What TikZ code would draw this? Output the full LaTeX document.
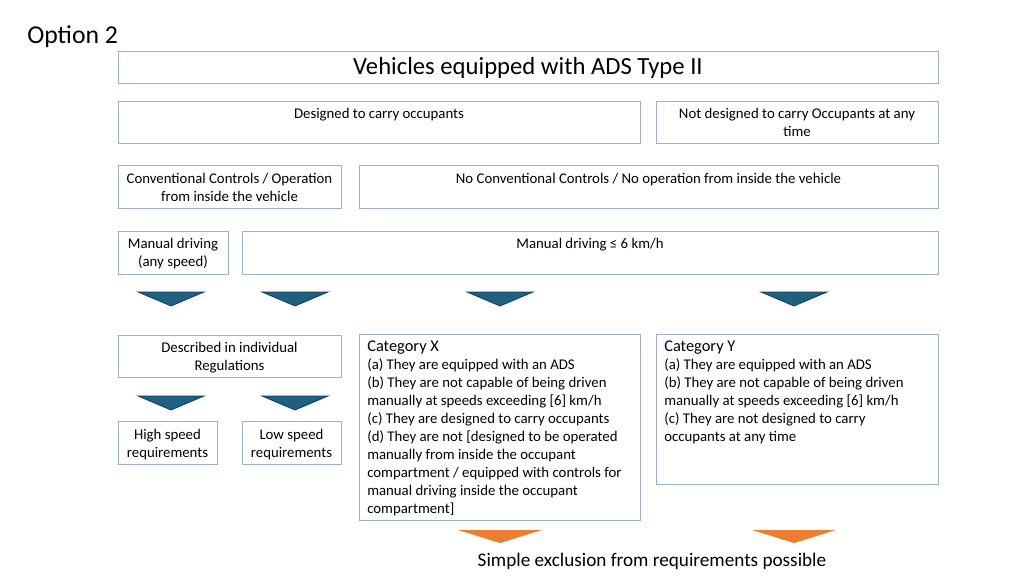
\documentclass[tikz,border=0pt]{standalone}
\usepackage{fontspec}
\setmainfont{Carlito}
\usetikzlibrary{positioning}
\definecolor{bx}{HTML}{9AB3CB}
\definecolor{tri}{HTML}{1F5F80}
\definecolor{trid}{HTML}{123F58}
\definecolor{org}{HTML}{ED7D31}
\begin{document}
\begin{tikzpicture}[x=0.75pt,y=-0.75pt,
  box/.style={draw=bx,line width=0.6pt},
  txt/.style={font=\fontsize{11.1}{13.5}\selectfont,align=center,inner sep=0pt,anchor=north},
  ltxt/.style={font=\fontsize{11.1}{13.5}\selectfont,align=left,inner sep=0pt,anchor=north west},
  dtri/.style={fill=tri,draw=trid,line width=0.6pt},
  otri/.style={fill=org,draw=none}]
\useasboundingbox (0,0) rectangle (1024,575);
\node[anchor=west,inner sep=0pt,font=\fontsize{19.3}{22}\selectfont] (opt) at (27,37) {Option 2};
\draw[box] (118,51) rectangle (938,83);
\node[inner sep=0pt,font=\fontsize{18.5}{20}\selectfont] (title) at (528,68) {Vehicles equipped with ADS Type II};
\draw[box] (118,101) rectangle (640,143);
\node[txt] (des) at (379,108) {Designed to carry occupants};
\draw[box] (656,101) rectangle (938,143);
\node[txt] (ndes) at (797,108) {Not designed to carry Occupants at any\\time};
\draw[box] (118,165) rectangle (341,208);
\node[txt] (conv) at (229.5,173) {Conventional Controls / Operation\\from inside the vehicle};
\draw[box] (359,165) rectangle (938,208);
\node[txt] (nconv) at (648.5,173) {No Conventional Controls / No operation from inside the vehicle};
\draw[box] (118,231) rectangle (228,274);
\node[txt] (man) at (173,238) {Manual driving\\(any speed)};
\draw[box] (242,231) rectangle (938,274);
\node[txt] (man6) at (590,238) {Manual driving ≤ 6 km/h};
\foreach \c in {171,295,500,794} \draw[dtri] (\c-33,292) -- (\c+33,292) -- (\c,306) -- cycle;
\draw[box] (118,335) rectangle (341,377);
\node[txt] (indiv) at (229.5,342) {Described in individual\\Regulations};
\foreach \c in {171,295} \draw[dtri] (\c-33,396) -- (\c+33,396) -- (\c,410) -- cycle;
\draw[box] (118,421) rectangle (217,464);
\node[txt] (hs) at (167.5,429) {High speed\\requirements};
\draw[box] (242,421) rectangle (341,464);
\node[txt] (ls) at (291.5,429) {Low speed\\requirements};
\draw[box] (359,334) rectangle (640,520);
\node[ltxt] (catx) at (367,341) {{\fontsize{12.3}{13.5}\selectfont Category X}\\(a) They are equipped with an ADS\\(b) They are not capable of being driven\\manually at speeds exceeding [6] km/h\\(c) They are designed to carry occupants\\(d) They are not [designed to be operated\\manually from inside the occupant\\compartment / equipped with controls for\\manual driving inside the occupant\\compartment]};
\draw[box] (656,334) rectangle (938,484);
\node[ltxt] (caty) at (664,341) {{\fontsize{12.3}{13.5}\selectfont Category Y}\\(a) They are equipped with an ADS\\(b) They are not capable of being driven\\manually at speeds exceeding [6] km/h\\(c) They are not designed to carry\\occupants at any time};
\foreach \c in {500,794} \draw[otri] (\c-42,530) -- (\c+42,530) -- (\c,543) -- cycle;
\node[inner sep=0pt,font=\fontsize{14.4}{16}\selectfont] (simple) at (652,561) {Simple exclusion from requirements possible};
\end{tikzpicture}
\end{document}
